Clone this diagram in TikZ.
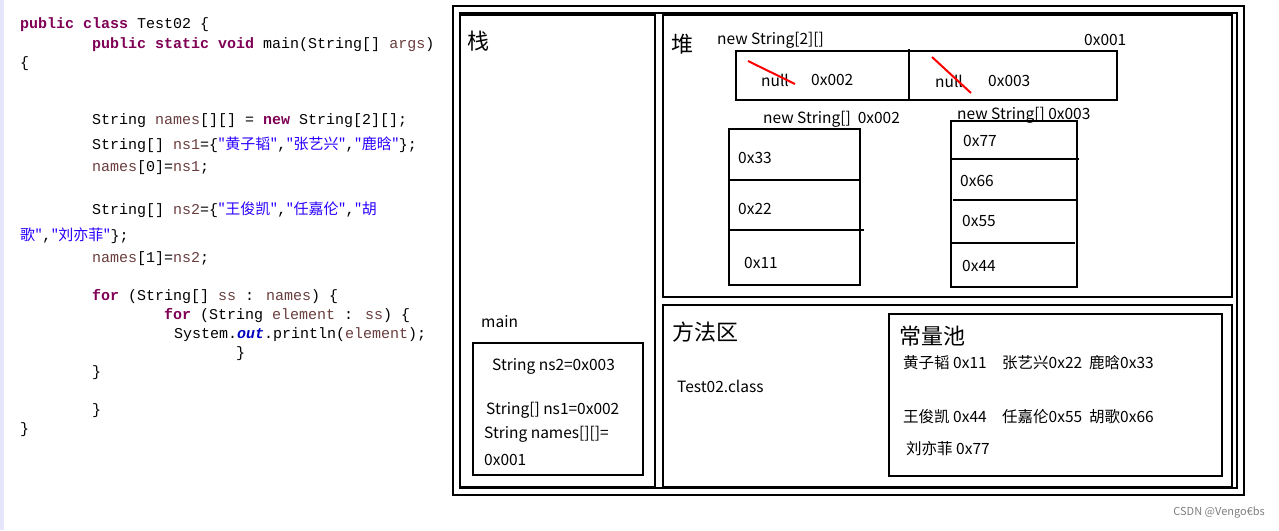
\documentclass[tikz,border=0pt]{standalone}
\usepackage{fontspec}
\setmainfont{Noto Sans CJK SC}
\newfontfamily\codefont{Liberation Mono}
\newfontfamily\cjk{Noto Sans CJK SC}
\begin{document}
\begin{tikzpicture}[x=1pt,y=-1pt,
  bx/.style={draw=black,line width=2.6pt},
  lbl/.style={anchor=west,inner sep=0pt,font=\fontsize{15.5}{15.5}\selectfont},
  big/.style={anchor=west,inner sep=0pt,font=\fontsize{22}{22}\selectfont},
  code/.style={anchor=west,inner sep=0pt,font=\codefont\fontsize{15}{15}\selectfont},
  strike/.style={draw=red,line width=2pt}]
\definecolor{kw}{HTML}{7F0055}\definecolor{vr}{HTML}{6A3E3E}\definecolor{st}{HTML}{2A00FF}\definecolor{fl}{HTML}{0000C0}
\useasboundingbox (0,0) rectangle (1279,530);
\fill[white] (0,0) rectangle (1279,530);
\fill[black!15!blue!10] (0,0) rectangle (4,530);
\newcommand\kw[1]{\textcolor{kw}{\bfseries #1}}
\newcommand\vr[1]{\textcolor{vr}{#1}}
\newcommand\st[1]{\textcolor{st}{{\cjk #1}}}
% code
\node[code] (c1) at (20,25) {\kw{public} \kw{class} Test02 \{};
\node[code] (c2) at (92,45) {\kw{public} \kw{static} \kw{void} main(String[] \vr{args})};
\node[code] (c3) at (20,64) {\{};
\node[code] (c4) at (92,121) {String \vr{names}[][] = \kw{new} String[2][];};
\node[code] (c5) at (92,145) {String[] \vr{ns1}=\{\st{"黄子韬"},\st{"张艺兴"},\st{"鹿晗"}\};};
\node[code] (c6) at (92,168) {\vr{names}[0]=\vr{ns1};};
\node[code] (c7) at (92,210) {String[] \vr{ns2}=\{\st{"王俊凯"},\st{"任嘉伦"},\st{"胡}};
\node[code] (c8) at (20,236) {\st{歌"},\st{"刘亦菲"}\};};
\node[code] (c9) at (92,259) {\vr{names}[1]=\vr{ns2};};
\node[code] (c10) at (92,297) {\kw{for} (String[] \vr{ss} : \vr{names}) \{};
\node[code] (c11) at (164,316) {\kw{for} (String \vr{element} : \vr{ss}) \{};
\node[code] (c12) at (174,335) {System.\textcolor{fl}{\bfseries\itshape out}.println(\vr{element});};
\node[code] (c13) at (236,354) {\}};
\node[code] (c14) at (92,373) {\}};
\node[code] (c15) at (92,411) {\}};
\node[code] (c16) at (20,430) {\}};
% frames
\draw[bx] (453,6) rectangle (1244,495);
\draw[bx] (460,13) rectangle (1237,488);
\draw[bx] (460,15) rectangle (655,487);
\draw[bx] (663,15) rectangle (1232,297);
\draw[bx] (663,305) rectangle (1232,487);
\draw[bx] (889,314) rectangle (1222,476);
\draw[bx] (473,343) rectangle (643,475);
% stack texts
\node[big] (zhan) at (467,41) {栈};
\node[lbl] (mainl) at (481,322) {main};
\node[lbl] (s1) at (492,366) {String ns2=0x003};
\node[lbl] (s2) at (486,410) {String[] ns1=0x002};
\node[lbl] (s3) at (484,434) {String names[][]=};
\node[lbl] (s4) at (484,460) {0x001};
% heap
\node[big] (dui) at (671,44) {堆};
\node[lbl] (h1) at (717,40) {new String[2][]};
\node[lbl] (h2) at (1084,40) {0x001};
\draw[bx] (736,51) rectangle (1117,100);
\draw[bx] (909,49) -- (909,100);
\node[lbl] (n1) at (761,80) {null};
\node[lbl] (a1) at (811,80) {0x002};
\node[lbl] (n2) at (935,81) {null};
\node[lbl] (a2) at (988,81) {0x003};
\draw[strike] (748,61) -- (795,84);
\draw[strike] (932,57) -- (971,93);
\node[lbl] (h3) at (763,119) {new String[]\ \ 0x002};
\node[lbl] (h4) at (957,115) {new String[] 0x003};
\draw[bx] (729,129) rectangle (860,285);
\draw[bx] (729,180) -- (860,180);
\draw[bx] (729,230) -- (864,230);
\node[lbl] (v33) at (738,158) {0x33};
\node[lbl] (v22) at (738,209) {0x22};
\node[lbl] (v11) at (744,263) {0x11};
\draw[bx] (951,121) rectangle (1077,287);
\draw[bx] (951,159) -- (1079,159);
\draw[bx] (953,200) -- (1077,200);
\draw[bx] (951,243) -- (1075,243);
\node[lbl] (v77) at (963,141) {0x77};
\node[lbl] (v66) at (960,181) {0x66};
\node[lbl] (v55) at (962,221) {0x55};
\node[lbl] (v44) at (962,266) {0x44};
% method area
\node[big] (ff) at (672,332) {方法区};
\node[lbl] (tc) at (677,386) {Test02.class};
\node[big] (cl) at (899,336) {常量池};
\node[lbl] (p1) at (903,363) {黄子韬 0x11\quad 张艺兴0x22\ \ 鹿晗0x33};
\node[lbl] (p2) at (903,417) {王俊凯 0x44\quad 任嘉伦0x55\ \ 胡歌0x66};
\node[lbl] (p3) at (906,449) {刘亦菲 0x77};
\node[anchor=east,inner sep=0pt,text=gray,font=\fontsize{11}{11}\selectfont] (wm) at (1265,512) {CSDN @Vengo€bs};
\end{tikzpicture}
\end{document}
